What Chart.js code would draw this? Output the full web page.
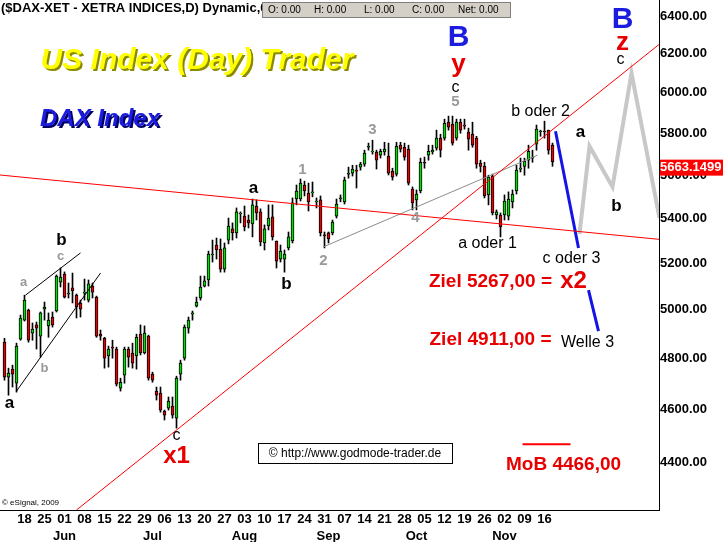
<!DOCTYPE html>
<html>
<head>
<meta charset="utf-8">
<script src="https://cdn.jsdelivr.net/npm/chart.js@4/dist/chart.umd.min.js"></script>
<style>
  html, body { margin: 0; padding: 0; background: #fff; }
  canvas { display: block; }
</style>
</head>
<body>
<canvas id="chart" width="723" height="542"></canvas>
<script>
// DAX daily candles, 11 May - 18 Nov 2009 (index = trading day)
const opens = [4866,4725,4757,4701,4878,4957,4999,4903,4937,4891,5003,4933,4970,4995,5118,5153,5067,5093,5062,5029,
  5071,5041,5101,5054,4899,4882,4810,4846,4838,4682,4733,4838,4822,4810,4899,4822,4891,4737,4670,4662,
  4592,4604,4612,4565,4737,4801,4924,4982,5016,5050,5101,5127,5236,5280,5262,5174,5302,5352,5334,5420,
  5410,5392,5374,5456,5429,5289,5365,5406,5298,5218,5218,5267,5298,5488,5488,5553,5516,5516,5475,5484,
  5325,5334,5334,5410,5488,5475,5604,5609,5623,5637,5651,5732,5709,5709,5694,5709,5689,5618,5604,5742,
  5732,5723,5534,5484,5525,5660,5694,5709,5728,5776,5776,5854,5844,5776,5854,5840,5805,5795,5776,5656,
  5641,5507,5595,5415,5415,5415,5410,5475,5525,5628,5641,5670,5680,5747,5807,5810,5815,5742];
const highs = [4882,4761,4773,4862,4978,5062,5003,4945,4949,4991,5033,4987,4991,5149,5179,5162,5114,5157,5067,5041,
  5131,5127,5114,5058,4916,4886,4850,4874,4846,4721,4846,4846,4862,4899,4937,4933,4895,4745,4686,4686,
  4596,4647,4647,4729,4793,4937,4970,4995,5054,5144,5144,5253,5302,5311,5307,5289,5401,5379,5447,5429,
  5456,5415,5488,5484,5443,5370,5461,5461,5298,5280,5258,5338,5493,5553,5581,5571,5562,5567,5493,5502,
  5338,5338,5392,5488,5507,5590,5637,5646,5646,5660,5718,5752,5766,5718,5723,5756,5752,5632,5756,5756,
  5752,5742,5544,5530,5680,5685,5742,5742,5815,5795,5869,5884,5884,5869,5869,5869,5825,5854,5785,5670,
  5660,5599,5604,5438,5424,5507,5521,5530,5646,5680,5680,5742,5718,5840,5815,5859,5815,5752];
const lows = [4713,4654,4686,4666,4874,4953,4866,4874,4838,4805,4957,4886,4928,4991,5097,5050,5050,5029,4966,4970,
  5041,5033,5050,4886,4874,4761,4765,4801,4690,4670,4701,4765,4761,4757,4814,4818,4713,4705,4635,4588,
  4558,4596,4565,4527,4713,4793,4903,4957,5012,5041,5097,5101,5205,5218,5161,5161,5285,5302,5311,5379,
  5343,5356,5316,5392,5276,5258,5347,5302,5179,5205,5161,5258,5289,5461,5479,5502,5433,5498,5447,5320,
  5267,5289,5325,5401,5475,5465,5585,5595,5539,5623,5641,5718,5699,5628,5680,5694,5600,5576,5595,5709,
  5670,5553,5438,5438,5516,5632,5670,5699,5718,5685,5766,5815,5742,5766,5800,5820,5718,5732,5632,5614,
  5493,5461,5415,5397,5316,5392,5392,5447,5511,5614,5599,5632,5660,5718,5785,5776,5699,5641];
const closes = [4725,4741,4737,4850,4966,5041,4874,4920,4924,4987,5012,4957,4937,5144,5140,5054,5071,5080,5012,5003,
  5075,5110,5075,4891,4891,4801,4838,4842,4697,4705,4838,4805,4781,4886,4822,4903,4721,4713,4654,4596,
  4577,4631,4577,4721,4781,4928,4957,4987,5033,5097,5123,5240,5240,5258,5174,5267,5365,5334,5429,5424,
  5361,5379,5461,5424,5294,5352,5401,5316,5209,5253,5240,5316,5470,5525,5562,5525,5475,5521,5479,5334,
  5320,5307,5383,5465,5493,5576,5608,5628,5618,5651,5704,5737,5713,5670,5713,5723,5609,5590,5737,5723,
  5684,5562,5470,5511,5660,5656,5713,5718,5776,5718,5849,5830,5752,5854,5815,5835,5771,5742,5651,5641,
  5502,5590,5424,5429,5361,5479,5488,5511,5623,5632,5665,5713,5685,5820,5810,5807,5718,5663.1499];

// x-axis: Mondays and first trading day of each month
const weekTicks = [5,10,15,20,25,30,35,40,45,50,55,60,65,70,75,80,85,90,95,100,105,110,115,120,125,130,135];
const weekLabels = ['18','25','01','08','15','22','29','06','13','20','27','03','10','17','24','31','07','14','21','28','05','12','19','26','02','09','16'];
const monthTicks = [15,37,60,81,103,125];
const monthLabels = ['Jun','Jul','Aug','Sep','Oct','Nov'];
const yTicks = [4400,4600,4800,5000,5200,5400,5600,5800,6000,6200,6400];

// drawn lines, [day index, price]
const resistLine = [[-1.2,5600],[163.75,5305]];
const supportLine = [[18,4226],[163.75,6251]];
const greyTrend = [[79.75,5272],[133.25,5694]];
const wedgeTop = [[5.25,5062],[19,5245]];
const wedgeBottom = [[3,4670],[24,5157]];
const bluePath = [[137.75,5810],[143.5,5267],[145,null],[146,5084],[148.5,4911]];
const greyPath = [[143.75,5329],[146.25,5737],[152,5544],[156.75,6101],[163.75,5401]];
const mobLine = [[129.5,4466],[141.5,4466]];

const F = '"Liberation Sans", Arial, sans-serif';
const RED = '#e80000';
const styles = {
  bold: ['bold 17px ' + F, '#000'],
  reg: ['16px ' + F, '#000'],
  grey: ['bold 15px ' + F, '#999'],
  greyS: ['bold 13px ' + F, '#999'],
  blueB: ['bold 30px ' + F, '#1c1ce0'],
  redL: ['bold 26px ' + F, RED],
  ziel: ['bold 19px ' + F, RED],
  xn: ['bold 24px ' + F, RED]
};
// wave labels: [text, day index, price, style]
const waveLabels = [
  ['a',1.25,4623,'bold'], ['b',14.25,5302,'bold'], ['a',4.75,5118,'greyS'], ['c',14,5231,'greyS'], ['b',10,4761,'greyS'],
  ['c',43,4497,'reg'], ['x1',43,4421,'xn'],
  ['a',62.25,5539,'bold'], ['b',70.5,5110,'bold'],
  ['1',74.5,5623,'grey'], ['2',79.75,5209,'grey'], ['3',92,5815,'grey'], ['4',102.75,5401,'grey'], ['5',112.75,5953,'grey'],
  ['c',112.75,6029,'reg'], ['B',113.5,6283,'blueB'], ['y',113.5,6141,'redL'],
  ['b oder 2',134,5904,'reg'], ['a oder 1',120.75,5285,'reg'], ['c oder 3',141.75,5222,'reg'],
  ['a',144,5805,'bold'], ['b',153,5456,'bold'], ['c',154,6170,'reg'], ['B',154.5,6378,'blueB'], ['z',154.5,6256,'redL'],
  ['Ziel 5267,00 =',121.5,5118,'ziel'], ['x2',142.25,5123,'xn'],
  ['Ziel 4911,00 =',121.5,4874,'ziel'], ['Welle 3',145.75,4866,'reg'],
  ['MoB 4466,00',139.75,4389,'ziel']
];

function toPts(arr) {
  return arr.map(p => ({ x: p[0], y: p[1] }));
}
function lineSet(arr, color, width) {
  return { type: 'line', data: toPts(arr), borderColor: color, borderWidth: width, pointRadius: 0,
    fill: false, tension: 0, spanGaps: false, order: 0 };
}
const candleColor = ctx => closes[ctx.dataIndex] >= opens[ctx.dataIndex] ? '#00e000' : '#e80000';

const overlay = {
  id: 'overlay',
  beforeDraw(chart) {
    const ctx = chart.ctx;
    ctx.save();
    ctx.fillStyle = '#fff';
    ctx.fillRect(0, 0, chart.width, chart.height);
    ctx.restore();
  },
  afterDraw(chart) {
    const { ctx, scales: { x, y } } = chart;
    ctx.save();
    ctx.textAlign = 'center';
    ctx.textBaseline = 'middle';
    waveLabels.forEach(l => {
      const s = styles[l[3]];
      ctx.font = s[0];
      ctx.fillStyle = s[1];
      ctx.fillText(l[0], x.getPixelForValue(l[1]), y.getPixelForValue(l[2]));
    });

    // titles
    ctx.font = 'italic bold 30px ' + F;
    ctx.shadowColor = '#8a8a00';
    ctx.shadowOffsetX = 2;
    ctx.shadowOffsetY = 2;
    ctx.fillStyle = '#ffff00';
    ctx.fillText('US Index (Day) Trader', 197, 61);
    ctx.font = 'italic bold 24px ' + F;
    ctx.shadowColor = '#000060';
    ctx.fillStyle = '#1c1ce0';
    ctx.fillText('DAX Index', 100, 119);
    ctx.shadowColor = 'transparent';
    ctx.shadowOffsetX = 0;
    ctx.shadowOffsetY = 0;

    // header
    ctx.textAlign = 'left';
    ctx.fillStyle = '#000';
    ctx.font = 'bold 13px ' + F;
    ctx.fillText('($DAX-XET - XETRA INDICES,D) Dynamic,0', 1, 8);
    ctx.fillStyle = '#d4d0c8';
    ctx.fillRect(262, 2, 249, 16);
    ctx.strokeStyle = '#808080';
    ctx.strokeRect(262.5, 2.5, 248, 15);
    ctx.fillStyle = '#000';
    ctx.font = '10px ' + F;
    [['O: 0.00',268],['H: 0.00',314],['L: 0.00',364],['C: 0.00',412],['Net: 0.00',458]].forEach(t => {
      ctx.fillText(t[0], t[1], 10);
    });

    // copyright boxes
    ctx.fillStyle = '#fff';
    ctx.fillRect(258, 443, 195, 21);
    ctx.strokeStyle = '#000';
    ctx.strokeRect(258.5, 443.5, 194, 20);
    ctx.fillStyle = '#000';
    ctx.font = '12px ' + F;
    ctx.textAlign = 'center';
    ctx.fillText('\u00a9 http://www.godmode-trader.de', 355, 454);
    ctx.textAlign = 'left';
    ctx.font = '8px ' + F;
    ctx.fillText('\u00a9 eSignal, 2009', 2, 503);

    // last price tag
    const last = closes[closes.length - 1];
    const py = y.getPixelForValue(last);
    ctx.fillStyle = '#ff0000';
    ctx.fillRect(x.right + 1, py - 2, 63, 16);
    ctx.fillStyle = '#fff';
    ctx.font = 'bold 13px ' + F;
    ctx.fillText(last.toFixed(4), x.right + 1, py + 6);
    ctx.restore();
  }
};

new Chart(document.getElementById('chart'), {
  type: 'bar',
  data: {
    datasets: [
      { label: 'body', data: opens.map((o, i) => ({ x: i, y: [o, closes[i]] })), backgroundColor: candleColor,
        borderColor: '#000', borderWidth: 1, borderSkipped: false, barThickness: 3, grouped: false, order: 1 },
      { label: 'wick', data: lows.map((l, i) => ({ x: i, y: [l, highs[i]] })), backgroundColor: '#000',
        borderWidth: 0, barThickness: 1, grouped: false, order: 2 },
      lineSet(resistLine, '#ff0000', 1),
      lineSet(supportLine, '#ff0000', 1),
      lineSet(greyTrend, '#8c8c8c', 1),
      lineSet(wedgeTop, '#000', 1),
      lineSet(wedgeBottom, '#000', 1),
      lineSet(greyPath, '#c8c8c8', 4),
      lineSet(bluePath, '#1414e6', 3),
      lineSet(mobLine, '#ff0000', 2)
    ]
  },
  options: {
    responsive: false,
    animation: false,
    events: [],
    devicePixelRatio: 1,
    layout: { padding: 0 },
    plugins: { legend: { display: false }, tooltip: { enabled: false }, title: { display: false } },
    scales: {
      x: {
        type: 'linear', position: 'bottom', weight: 0, min: -1.125, max: 163.625, offset: false,
        afterBuildTicks: s => { s.ticks = weekTicks.map(v => ({ value: v })); },
        afterFit: s => { s.height = 16; s.paddingLeft = 0; s.paddingRight = 0; },
        grid: { display: false, drawTicks: false, offset: false },
        border: { display: true, color: '#000', width: 1 },
        ticks: { autoSkip: false, maxRotation: 0, padding: 2, color: '#000',
          font: { family: F, size: 13, weight: 'bold' }, callback: (v, i) => weekLabels[i] }
      },
      xm: {
        type: 'linear', position: 'bottom', weight: 1, min: -1.125, max: 163.625, offset: false,
        afterBuildTicks: s => { s.ticks = monthTicks.map(v => ({ value: v })); },
        afterFit: s => { s.height = 16; s.paddingLeft = 0; s.paddingRight = 0; },
        grid: { display: false, drawTicks: false, offset: false },
        border: { display: false },
        ticks: { autoSkip: false, maxRotation: 0, padding: 3, color: '#000',
          font: { family: F, size: 13, weight: 'bold' }, callback: (v, i) => monthLabels[i] }
      },
      y: {
        type: 'logarithmic', position: 'right', min: 4226, max: 6487,
        afterBuildTicks: s => { s.ticks = yTicks.map(v => ({ value: v })); },
        afterFit: s => { s.width = 64; s.paddingTop = 0; s.paddingBottom = 0; },
        grid: { display: false, drawTicks: false },
        border: { display: true, color: '#000', width: 1 },
        ticks: { padding: 1, color: '#000', font: { family: F, size: 13, weight: 'bold' },
          callback: v => Number(v).toFixed(2) }
      }
    }
  },
  plugins: [overlay]
});
</script>
</body>
</html>
